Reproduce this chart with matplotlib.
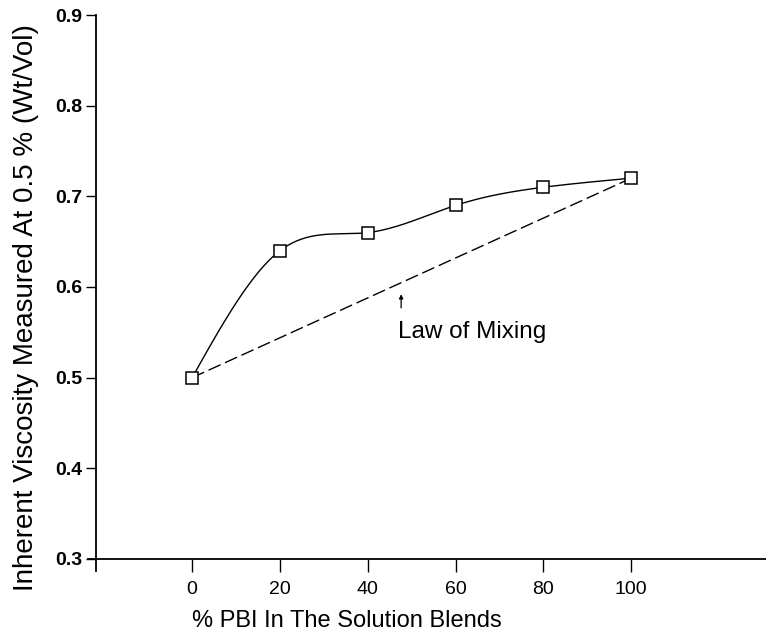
import numpy as np
import matplotlib
matplotlib.use("Agg")
import matplotlib.pyplot as plt

plt.rcParams['font.family'] = ['Liberation Sans', 'DejaVu Sans']

# data
pbi = np.array([0, 20, 40, 60, 80, 100])
visc = np.array([0.50, 0.64, 0.66, 0.69, 0.71, 0.72])
mix_x = [0, 100]
mix_y = [0.50, 0.72]
xticks = [0, 20, 40, 60, 80, 100]
yticks = [0.3, 0.4, 0.5, 0.6, 0.7, 0.8, 0.9]


def natural_spline(x, y, xs):
    # natural cubic spline, just for drawing the smooth curve
    n = len(x)
    h = np.diff(x)
    A = np.zeros((n, n))
    r = np.zeros(n)
    A[0, 0] = A[-1, -1] = 1
    for i in range(1, n - 1):
        A[i, i - 1] = h[i - 1]
        A[i, i] = 2 * (h[i - 1] + h[i])
        A[i, i + 1] = h[i]
        r[i] = 3 * ((y[i + 1] - y[i]) / h[i] - (y[i] - y[i - 1]) / h[i - 1])
    c = np.linalg.solve(A, r)
    out = np.empty_like(xs)
    for k, xv in enumerate(xs):
        i = min(np.searchsorted(x, xv, side='right') - 1, n - 2)
        b = (y[i + 1] - y[i]) / h[i] - h[i] * (2 * c[i] + c[i + 1]) / 3
        d = (c[i + 1] - c[i]) / (3 * h[i])
        t = xv - x[i]
        out[k] = y[i] + b * t + c[i] * t ** 2 + d * t ** 3
    return out


fig = plt.figure(figsize=(7.66, 6.36), dpi=100)
ax = fig.add_axes([0.1253, 0.1211, 0.8747, 0.8553])
x0, x1 = -21.9, 130.7
ax.set_xlim(x0, x1)
ax.set_ylim(0.3, 0.9)

xs = np.linspace(pbi[0], pbi[-1], 300)
ax.plot(xs, natural_spline(pbi.astype(float), visc, xs), color='black', lw=1.0)
ax.plot(pbi, visc, 's', ms=8.5, mfc='white', mec='black', mew=1.1, zorder=3)
ax.plot(mix_x, mix_y, color='black', lw=1.0, dashes=(9.5, 3.5))

ax.annotate('', xy=(47.6, 0.592), xytext=(47.6, 0.577),
            arrowprops=dict(arrowstyle='-|>', color='black', lw=0.9,
                            mutation_scale=6, shrinkA=0, shrinkB=0))
ax.text(46.8, 0.550, 'Law of Mixing', fontsize=17.5, va='center', ha='left')

for s in ax.spines.values():
    s.set_visible(False)
# axis lines crossing like the original
ax.plot([x0, x0], [0.287, 0.9], color='black', lw=1.3, clip_on=False)
ax.plot([x0 - 1.8, x1], [0.3, 0.3], color='black', lw=1.3, clip_on=False)

ax.set_xticks(xticks)
ax.set_xticklabels([str(v) for v in xticks])
ax.set_yticks(yticks)
ax.set_yticklabels(['%.1f' % v for v in yticks])
ax.tick_params(axis='x', direction='out', length=9, width=1.0, labelsize=14, pad=7)
ax.tick_params(axis='y', direction='out', length=7, width=1.0, labelsize=14, pad=3)
for lab in ax.get_yticklabels():
    lab.set_fontweight('bold')

ax.set_xlabel('% PBI In The Solution Blends', fontsize=17)
ax.xaxis.set_label_coords(0.375, -0.093)
ax.set_ylabel('Inherent Viscosity Measured At 0.5 % (Wt/Vol)', fontsize=20)
ax.yaxis.set_label_coords(-0.085, 0.463)

fig.savefig('out.png', dpi=100)
